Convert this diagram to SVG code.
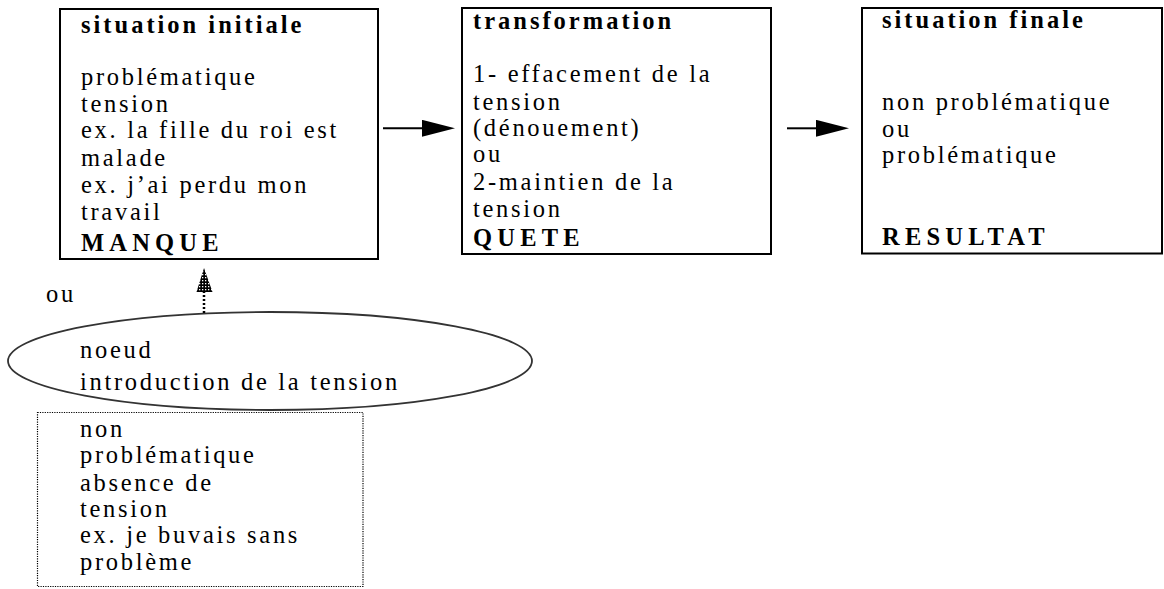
<svg xmlns="http://www.w3.org/2000/svg" width="1164" height="589" viewBox="0 0 1164 589">
<style>
text{font-family:"Liberation Serif","Times New Roman",serif;font-size:24.5px;fill:#000}
.r{letter-spacing:2.7px}
.t{font-weight:bold;letter-spacing:3px}
.c{font-weight:bold;letter-spacing:5.2px}
.box{fill:#fff;stroke:#000;stroke-width:2}
.dot{fill:#fff;stroke:#000;stroke-width:1.2;stroke-dasharray:1.2 1.2}
.ell{fill:#fff;stroke:#333;stroke-width:1.8}
.conn{stroke:#000;stroke-width:2;fill:none}
</style>
<defs>
<marker id="ah" markerUnits="userSpaceOnUse" viewBox="0 0 33 17" refX="0" refY="8.5" markerWidth="33" markerHeight="17" orient="auto">
<path d="M0,0 L33,8.5 L0,17 Z" fill="#000"/>
</marker>
<pattern id="hatch" patternUnits="userSpaceOnUse" width="3" height="3">
<rect width="3" height="3" fill="#000"/>
<rect x="1" y="1" width="1.3" height="1.3" fill="#fff"/>
</pattern>
</defs>
<rect width="1164" height="589" fill="#fff"/>

<g id="situation-initiale">
<rect class="box" x="60" y="9" width="318" height="250"/>
<text class="t" x="81" y="33">situation initiale</text>
<text class="r" x="81" y="85">problématique</text>
<text class="r" x="81" y="111.7">tension</text>
<text class="r" x="81" y="138.3">ex. la fille du roi est</text>
<text class="r" x="81" y="165.7">malade</text>
<text class="r" x="81" y="192.7">ex. j’ai perdu mon</text>
<text class="r" x="81" y="220">travail</text>
<text class="c" x="81" y="250.7">MANQUE</text>
</g>

<g id="transformation">
<rect class="box" x="462" y="8" width="309" height="246"/>
<text class="t" x="473" y="29.3">transformation</text>
<text class="r" x="473" y="81.7">1- effacement de la</text>
<text class="r" x="473" y="110">tension</text>
<text class="r" x="473" y="136">(dénouement)</text>
<text class="r" x="473" y="162.3">ou</text>
<text class="r" x="473" y="190">2-maintien de la</text>
<text class="r" x="473" y="216.7">tension</text>
<text class="c" x="473" y="246">QUETE</text>
</g>

<g id="situation-finale">
<rect class="box" x="862" y="8" width="300" height="245.5"/>
<text class="t" x="882" y="28.3">situation finale</text>
<text class="r" x="882" y="110">non problématique</text>
<text class="r" x="882" y="136.7">ou</text>
<text class="r" x="882" y="162.7">problématique</text>
<text class="c" x="882" y="245">RESULTAT</text>
</g>

<g id="label-ou">
<text class="r" x="46" y="302">ou</text>
</g>

<g id="noeud">
<ellipse class="ell" cx="270" cy="361" rx="262" ry="49"/>
<text class="r" x="80" y="358.3">noeud</text>
<text class="r" x="80" y="389.5">introduction de la tension</text>
</g>

<g id="non-problematique">
<rect class="dot" x="37.5" y="412.5" width="325.5" height="174"/>
<text class="r" x="80" y="436.7">non</text>
<text class="r" x="80" y="463.3">problématique</text>
<text class="r" x="80" y="490.7">absence de</text>
<text class="r" x="80" y="516.7">tension</text>
<text class="r" x="80" y="543.3">ex. je buvais sans</text>
<text class="r" x="80" y="570">problème</text>
</g>

<g id="connectors">
<line class="conn" x1="383" y1="128.3" x2="422" y2="128.3" marker-end="url(#ah)"/>
<line class="conn" x1="787" y1="128.3" x2="816" y2="128.3" marker-end="url(#ah)"/>
<line x1="204" y1="313" x2="204" y2="292" stroke="#000" stroke-width="2.5" stroke-dasharray="2 2"/>
<polygon points="204,268 196.5,292 212.5,292" fill="url(#hatch)"/>
</g>
</svg>
